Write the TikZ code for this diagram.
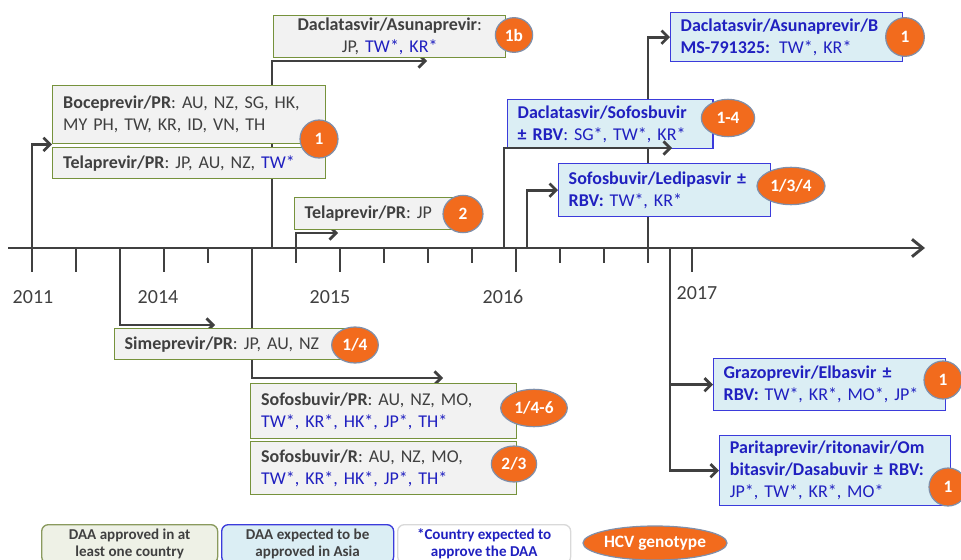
\documentclass[tikz,border=0pt]{standalone}
\usepackage{fontspec}
\setmainfont{Carlito}
\usepackage{xcolor}
\usetikzlibrary{arrows.meta,shapes.geometric,backgrounds}

\definecolor{axisgray}{HTML}{404040}
\definecolor{boxgreen}{HTML}{76923C}
\definecolor{boxgray}{HTML}{F2F2F2}
\definecolor{boxblue}{HTML}{3B3BDB}
\definecolor{boxlight}{HTML}{DBEEF4}
\definecolor{txtblue}{HTML}{2020C0}
\definecolor{hcvorange}{HTML}{F26B1D}
\definecolor{badgeedge}{HTML}{7F8FAA}
\definecolor{leggreen}{HTML}{8A9A5E}
\definecolor{legfill}{HTML}{EEF1E6}
\definecolor{leggray}{HTML}{D9D9D9}

\newcommand{\cblue}[1]{\textcolor{txtblue}{#1}}

\tikzset{
  axisline/.style={draw=axisgray,line width=2.2pt},
  conn/.style={->,draw=axisgray,line width=2pt},
  gbox/.style={draw=boxgreen,fill=boxgray,line width=1.1pt,anchor=north west,
    inner xsep=7.5pt,inner ysep=1pt,align=left,text=axisgray},
  bbox/.style={gbox,draw=boxblue,fill=boxlight,text=txtblue},
  badge/.style={ellipse,draw=badgeedge,fill=hcvorange,line width=0.9pt,text=white,
    inner sep=0pt,font=\bfseries\fontsize{13}{13}\selectfont},
  legbox/.style={rounded corners=5pt,line width=1pt,anchor=north west,align=center,
    minimum height=29pt,inner ysep=1pt,font=\bfseries\fontsize{11.3}{12.8}\selectfont},
  year/.style={text=axisgray,font=\fontsize{15}{15}\selectfont}
}

\begin{document}
\begin{tikzpicture}[x=0.75pt,y=-0.75pt,>={Straight Barb[length=5pt,width=10pt]},
  font=\fontsize{13.5}{16.5}\selectfont]
  \useasboundingbox (0,0) rectangle (961,560);
  \clip (0,0) rectangle (961,560);

  % time axis
  \draw[axisline,-{Straight Barb[length=8pt,width=13pt]}] (8,248) -- (925,248);
  \foreach \t in {32,76,164,340,516,692}
    \draw[axisline] (\t,248) -- (\t,272);
  \foreach \t in {208,296,384,428,472,560,604,648}
    \draw[axisline] (\t,248) -- (\t,263);
  \node[year] (y2011) at (33,297) {2011};
  \node[year] (y2014) at (158,297) {2014};
  \node[year] (y2015) at (330,297) {2015};
  \node[year] (y2016) at (503,297) {2016};
  \node[year] (y2017) at (697,293) {2017};

  \coordinate (a1) at (32,248);
  \coordinate (a2) at (272,248);
  \coordinate (a3) at (296,248);
  \coordinate (a4) at (504,248);
  \coordinate (a5) at (527,248);
  \coordinate (a6) at (648,248);
  \coordinate (a7) at (120,248);
  \coordinate (a8) at (252,248);
  \coordinate (a9) at (670,248);
  \coordinate (e2) at (427,61);
  \coordinate (e3) at (338,233);
  \coordinate (e4) at (672,148);
  \coordinate (e7) at (215,325);
  \coordinate (e8) at (443,378);

  % approved DAAs
  \node[gbox,minimum width=204.75pt,minimum height=43.5pt,text width=189pt] (boce) at (52,85)
    {\textbf{Boceprevir/PR}: AU, NZ, SG, HK,\\MY PH, TW, KR, ID, VN, TH};
  \node[gbox,minimum width=204.75pt,minimum height=23.25pt,text width=189pt] (tela) at (52,147)
    {\textbf{Telaprevir/PR}: JP, AU, NZ, \cblue{TW*}};
  \node[gbox,align=center,minimum width=174pt,minimum height=31.5pt,text width=159pt] (dasu) at (273,15)
    {\textbf{Daclatasvir/Asunaprevir}:\\JP, \cblue{TW*, KR*}};
  \node[gbox,minimum width=120pt,minimum height=24pt,text width=105pt] (telajp) at (294,197)
    {\textbf{Telaprevir/PR}: JP};
  \node[gbox,minimum width=173pt,minimum height=23.25pt,text width=158pt] (sime) at (114,328)
    {\textbf{Simeprevir/PR}: JP, AU, NZ};
  \node[gbox,minimum width=199.5pt,minimum height=41.25pt,text width=184pt] (sofpr) at (250,383)
    {\textbf{Sofosbuvir/PR}: AU, NZ, MO,\\\cblue{TW*, KR*, HK*, JP*, TH*}};
  \node[gbox,minimum width=199.5pt,minimum height=39.75pt,text width=184pt] (sofr) at (250,441)
    {\textbf{Sofosbuvir/R}: AU, NZ, MO,\\\cblue{TW*, KR*, HK*, JP*, TH*}};

  % expected DAAs
  \node[bbox,minimum width=153.75pt,minimum height=36.75pt,text width=139pt] (dsof) at (507,99)
    {\textbf{Daclatasvir/Sofosbuvir}\\\textbf{± RBV}: SG*, TW*, KR*};
  \node[bbox,minimum width=174pt,minimum height=36.75pt,text width=159pt] (dab) at (670,12)
    {\textbf{Daclatasvir/Asunaprevir/B}\\\textbf{MS-791325:} TW*, KR*};
  \node[bbox,minimum width=159pt,minimum height=39.75pt,text width=144pt] (sled) at (558,163)
    {\textbf{Sofosbuvir/Ledipasvir ±}\\\textbf{RBV:} TW*, KR*};
  \node[bbox,minimum width=174pt,minimum height=39pt,text width=159pt] (graz) at (713,358)
    {\textbf{Grazoprevir/Elbasvir ±}\\\textbf{RBV:} TW*, KR*, MO*, JP*};
  \node[bbox,minimum width=173.25pt,minimum height=52.5pt,text width=158pt] (pari) at (719,435)
    {\textbf{Paritaprevir/ritonavir/Om}\\\textbf{bitasvir/Dasabuvir ± RBV:}\\JP*, TW*, KR*, MO*};

  % genotypes
  \node[badge,minimum width=28.5pt,minimum height=28.5pt] (g1) at (319,139) {1};
  \node[badge,minimum width=28pt,minimum height=26pt] (g1b) at (514,35) {1b};
  \node[badge,minimum width=30pt,minimum height=28pt] (g2) at (463,214) {2};
  \node[badge,minimum width=40pt,minimum height=28pt] (g14a) at (728,118) {1-4};
  \node[badge,minimum width=29pt,minimum height=29pt] (gdab) at (905,37) {1};
  \node[badge,minimum width=51pt,minimum height=28pt] (g134) at (791,186) {1/3/4};
  \node[badge,minimum width=35pt,minimum height=27pt] (g14b) at (355,345) {1/4};
  \node[badge,minimum width=50pt,minimum height=28pt] (g146) at (534,408) {1/4-6};
  \node[badge,minimum width=34pt,minimum height=27pt] (g23) at (514,464) {2/3};
  \node[badge,minimum width=28.5pt,minimum height=28.5pt] (ggraz) at (943,380) {1};
  \node[badge,minimum width=28.5pt,minimum height=28.5pt] (gpari) at (948,487) {1};

  % connectors
  \begin{scope}[on background layer]
    \draw[conn] (a1) |- (boce.south west);
    \draw[conn] (a2) |- (e2);
    \draw[conn] (a3) |- (e3);
    \draw[conn] (a5) |- (sled.west);
    \draw[conn] (a6) |- (dab.west);
    \draw[conn] (a7) |- (e7);
    \draw[conn] (a8) |- (e8);
    \draw[conn] (a9) |- (pari.west);
    \draw[conn] (a9 |- graz.west) -- (graz.west);
  \end{scope}
  \draw[conn] (a4) |- (e4);

  % legend
  \node[legbox,draw=leggreen,fill=legfill,text=axisgray,minimum width=132pt] (leg1) at (41,524)
    {DAA approved in at\\least one country};
  \node[legbox,draw=boxblue,fill=boxlight,text=axisgray,minimum width=129pt] (leg2) at (221,524)
    {DAA expected to be\\approved in Asia};
  \node[legbox,draw=leggray,fill=white,text=txtblue,minimum width=129.75pt] (leg3) at (397,524)
    {*Country expected to\\approve the DAA};
  \node[badge,minimum width=108pt,minimum height=25.5pt] (hcv) at (655,543) {HCV genotype};
\end{tikzpicture}
\end{document}
